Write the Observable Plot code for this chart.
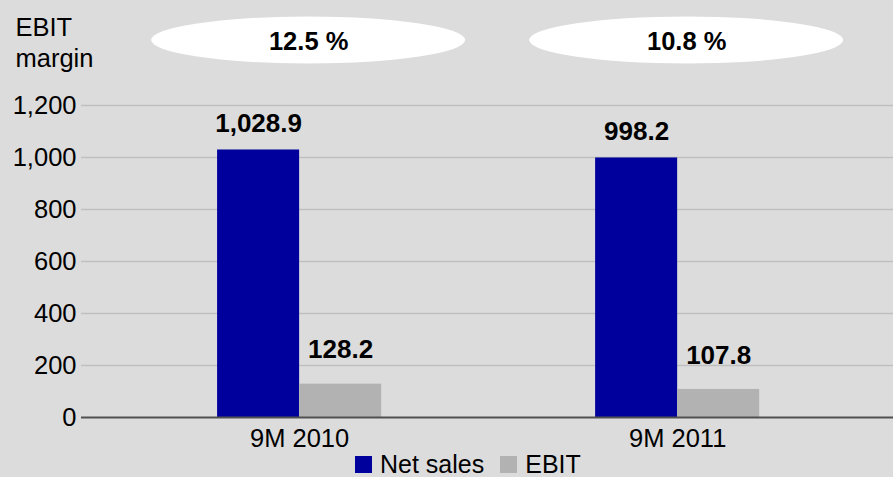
<!DOCTYPE html>
<html>
<head>
<meta charset="utf-8">
<script src="https://cdn.jsdelivr.net/npm/d3@7"></script>
<script src="https://cdn.jsdelivr.net/npm/@observablehq/plot@0.6"></script>
<style>
  html, body { margin: 0; padding: 0; background: #dcdcdc; overflow: hidden; }
  body { width: 893px; height: 477px; font-family: "Liberation Sans", Arial, sans-serif; }
  #legend { height: 24px; line-height: 24px; font-size: 25px; color: #000; white-space: nowrap; padding-left: 355px; }
  #legend .sw { display: inline-block; width: 17px; height: 17px; margin-right: 8px; }
  #legend .item { display: inline-block; margin-right: 16px; }
</style>
</head>
<body>
<div id="chart"></div>
<div id="legend"></div>
<script>
const categories = ["9M 2010", "9M 2011"];
const seriesNames = ["Net sales", "EBIT"];
const netSales = [1028.9, 998.2];
const ebit = [128.2, 107.8];
const ebitMargin = [12.5, 10.8];
const yTicks = [0, 200, 400, 600, 800, 1000, 1200];
const colors = ["#00009c", "#b2b2b2"];

const W = 0.217; // bar width in category units
const data = [];
categories.forEach((c, i) => {
  data.push({i, category: c, series: "Net sales", value: netSales[i], x1: i - W, x2: i});
  data.push({i, category: c, series: "EBIT", value: ebit[i], x1: i, x2: i + W});
});
const netData = data.filter(d => d.series === "Net sales");
const ebitData = data.filter(d => d.series === "EBIT");
const marginData = categories.map((c, i) => ({i, category: c, margin: ebitMargin[i]}));

const fmtVal = d3.format(",.1f");

const ellipses = (index, scales, values, dimensions) => {
  const g = d3.create("svg:g");
  const yc = dimensions.marginTop - 65;
  marginData.forEach(d => {
    g.append("ellipse")
      .attr("cx", scales.x(d.i) + 9)
      .attr("cy", yc)
      .attr("rx", 157)
      .attr("ry", 23.5)
      .attr("fill", "#ffffff");
  });
  return g.node();
};

const chart = Plot.plot({
  width: 893,
  height: 452,
  marginTop: 105,
  marginBottom: 35,
  marginLeft: 81,
  marginRight: 0,
  style: {background: "#dcdcdc", fontFamily: "Liberation Sans, Arial, sans-serif", fontSize: "25.5px", color: "#000", overflow: "visible"},
  x: {type: "linear", domain: [-0.577, 1.571], ticks: [0, 1], tickFormat: i => categories[i], tickSize: 0, tickPadding: 11, label: null},
  y: {domain: [0, 1200], ticks: yTicks, tickFormat: d3.format(","), tickSize: 0, tickPadding: 5, label: null},
  color: {domain: seriesNames, range: colors},
  marks: [
    Plot.ruleY(yTicks.filter(t => t > 0), {stroke: "#bfbfbf", strokeWidth: 1.5}),
    Plot.rectY(data, {x1: "x1", x2: "x2", y1: 0, y2: "value", fill: "series"}),
    Plot.ruleY([0], {stroke: "#505050", strokeWidth: 2}),
    Plot.text(netData, {x: d => (d.x1 + d.x2) / 2, y: "value", text: d => fmtVal(d.value), dy: -26, fontWeight: "bold", fontSize: 26, fill: "#000"}),
    Plot.text(ebitData, {x: d => (d.x1 + d.x2) / 2, y: "value", text: d => fmtVal(d.value), dy: -34, fontWeight: "bold", fontSize: 26, fill: "#000"}),
    ellipses,
    Plot.text(marginData, {x: "i", frameAnchor: "top", lineAnchor: "middle", dy: -64, dx: 9, text: d => d.margin.toFixed(1) + " %", fontWeight: "bold", fontSize: 25.5, fill: "#000"}),
    Plot.text(["EBIT\nmargin"], {frameAnchor: "top-left", dx: -66, dy: -92, textAnchor: "start", lineAnchor: "top", lineHeight: 1.22, fontSize: 25.5, fill: "#000"})
  ]
});
document.getElementById("chart").appendChild(chart);

const legend = d3.select("#legend");
seriesNames.forEach((s, k) => {
  const item = legend.append("span").attr("class", "item");
  item.append("span").attr("class", "sw").style("background", colors[k]);
  item.append("span").text(s);
});
</script>
</body>
</html>
